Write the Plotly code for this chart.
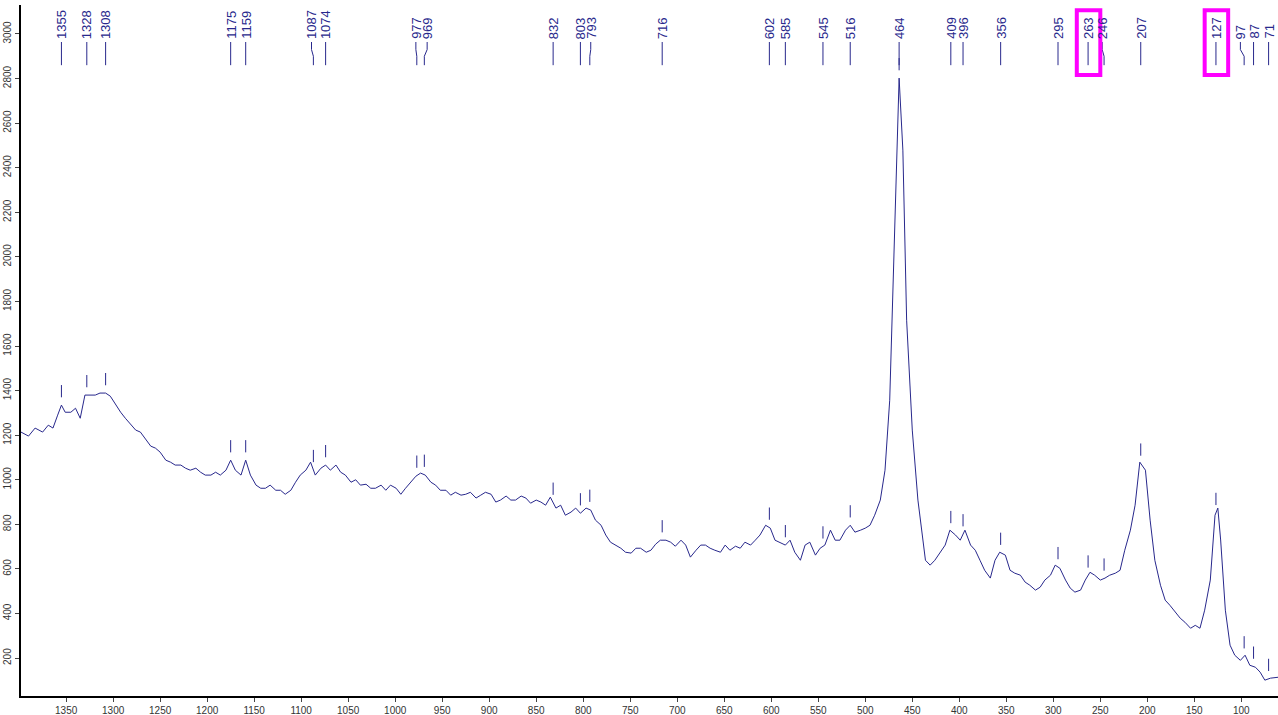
import numpy as np
import plotly.graph_objects as go

# Raman shift (cm-1) and intensity
shift = [1398, 1390, 1383, 1375, 1369, 1364, 1359, 1355, 1351, 1345, 1340, 1335, 1330, 1324, 1319, 1314,
         1308, 1303, 1297, 1292, 1287, 1281, 1276, 1271, 1265, 1260, 1255, 1250, 1244, 1239, 1234, 1228,
         1223, 1218, 1212, 1207, 1202, 1196, 1191, 1186, 1180, 1175, 1170, 1164, 1159, 1154, 1148, 1143,
         1138, 1133, 1127, 1122, 1117, 1111, 1106, 1101, 1095, 1090, 1085, 1079, 1074, 1069, 1063, 1058,
         1053, 1047, 1042, 1037, 1031, 1026, 1021, 1015, 1010, 1005, 999, 994, 989, 984, 978, 973, 968,
         962, 957, 952, 946, 941, 936, 930, 925, 920, 914, 909, 904, 898, 893, 888, 882, 877, 872, 866,
         861, 856, 850, 845, 840, 835, 829, 824, 819, 813, 808, 803, 797, 792, 787, 781, 776, 771, 765,
         760, 755, 749, 744, 739, 733, 728, 723, 718, 712, 707, 702, 696, 691, 686, 680, 675, 670, 665,
         660, 654, 649, 644, 638, 633, 628, 622, 617, 612, 606, 601, 596, 590, 585, 580, 575, 569, 564,
         559, 553, 548, 543, 537, 532, 527, 521, 516, 511, 505, 500, 495, 490, 484, 479, 474, 468, 464,
         460, 456, 450, 444, 436, 431, 426, 420, 415, 410, 404, 399, 394, 388, 383, 378, 373, 367, 362,
         357, 351, 346, 341, 335, 330, 325, 319, 314, 309, 303, 298, 293, 287, 282, 277, 271, 266, 261,
         256, 250, 245, 240, 234, 229, 224, 218, 213, 208, 202, 197, 192, 186, 181, 176, 170, 165, 160,
         154, 149, 144, 139, 133, 128, 125, 122, 117, 112, 107, 101, 96, 91, 85, 80, 75, 69, 61]
intensity = [1214, 1196, 1232, 1214, 1245, 1232, 1290, 1335, 1303, 1303, 1321, 1276, 1380, 1380, 1380, 1389,
             1389, 1375, 1335, 1303, 1276, 1245, 1223, 1214, 1178, 1151, 1142, 1124, 1088, 1079, 1066, 1066,
             1052, 1043, 1052, 1034, 1021, 1021, 1034, 1021, 1043, 1088, 1043, 1021, 1088, 1021, 976, 962,
             962, 976, 953, 953, 935, 953, 989, 1021, 1043, 1079, 1021, 1052, 1066, 1043, 1066, 1034,
             1021, 989, 1000, 976, 980, 962, 962, 976, 953, 976, 962, 935, 962, 989, 1016, 1030, 1021,
             989, 976, 953, 953, 931, 944, 931, 935, 944, 918, 931, 944, 935, 900, 909, 927, 909, 909, 927,
             918, 895, 909, 900, 886, 922, 873, 886, 841, 855, 873, 850, 873, 864, 819, 796, 752, 720, 707,
             693, 675, 671, 693, 693, 675, 684, 711, 729, 729, 720, 702, 729, 707, 653, 684, 707, 707, 693,
             684, 675, 707, 684, 702, 693, 720, 707, 729, 752, 796, 783, 729, 716, 707, 729, 675, 639, 707,
             720, 662, 693, 707, 774, 729, 729, 774, 796, 765, 774, 783, 796, 841, 909, 1043, 1357, 2255, 2802,
             2479, 1716, 1223, 909, 639, 617, 639, 675, 707, 774, 752, 729, 774, 707, 684, 639, 594, 559, 639,
             675, 662, 594, 581, 572, 541, 527, 505, 518, 550, 572, 617, 603, 550, 514, 496, 505, 550, 585,
             572, 550, 559, 572, 581, 594, 684, 774, 886, 1079, 1043, 819, 639, 527, 460, 437, 406, 379, 361,
             334, 347, 334, 415, 550, 841, 873, 730, 415, 258, 213, 190, 213, 168, 159, 137, 101, 110, 114]

peaks = [1355, 1328, 1308, 1175, 1159, 1087, 1074, 977, 969, 832, 803, 793, 716, 602, 585, 545, 516,
         464, 409, 396, 356, 295, 263, 246, 207, 127, 97, 87, 71]
# where each label sits when neighbours crowd it (the leader line bends)
label_at = [1355, 1328, 1308, 1175, 1159, 1089, 1074, 978, 966, 832, 803, 792, 716, 602, 585, 545, 516,
            464, 409, 396, 356, 295, 263, 248, 207, 127, 101, 87, 71]
highlighted = [263, 127]

ink = "#28288c"
xs = np.array(shift[::-1], dtype=float)
ys = np.array(intensity[::-1], dtype=float)

fig = go.Figure()
fig.add_trace(go.Scatter(x=shift, y=intensity, mode="lines",
                         line=dict(color=ink, width=1), hoverinfo="x+y"))

# little tick marks over each peak on the curve
tx, ty = [], []
for p in peaks:
    yp = float(np.interp(p, xs, ys))
    tx.extend([p, p, None])
    ty.extend([yp + 35, yp + 90, None])
fig.add_trace(go.Scatter(x=tx, y=ty, mode="lines", line=dict(color=ink, width=1), hoverinfo="skip"))

# peak labels along the top, with bent leader lines
lx, ly = [], []
for p, q in zip(peaks, label_at):
    lx.extend([p, p, q, q, None])
    ly.extend([2860, 2900, 2930, 2964, None])
    fig.add_annotation(x=q, y=2964, text=str(p), textangle=-90, showarrow=False,
                       xanchor="center", yanchor="bottom", yshift=1,
                       font=dict(family="Arial", size=13, color=ink))
fig.add_trace(go.Scatter(x=lx, y=ly, mode="lines", line=dict(color=ink, width=1), hoverinfo="skip"))

for p in highlighted:
    fig.add_shape(type="rect", x0=p + 12, x1=p - 13, y0=2816, y1=3107,
                  line=dict(color="#ff00ff", width=4))

fig.update_layout(
    width=1278, height=715,
    paper_bgcolor="white", plot_bgcolor="white",
    showlegend=False,
    margin=dict(l=21, r=0, t=5, b=19, autoexpand=False),
    xaxis=dict(range=[1398, 61], tickvals=list(range(100, 1351, 50)), showgrid=False, zeroline=False,
               showline=True, linecolor="black", linewidth=2, ticks="outside", ticklen=4, automargin=False,
               tickfont=dict(family="Arial", size=10, color="#333")),
    yaxis=dict(range=[30, 3130], tickvals=list(range(200, 3001, 200)), showgrid=False, zeroline=False,
               showline=True, linecolor="black", linewidth=2, ticks="outside", ticklen=4, tickangle=-90,
               automargin=False, tickfont=dict(family="Arial", size=10, color="#333")),
)

fig.write_html("out.html", config={"displayModeBar": False},
               post_script="document.body.style.margin='0';document.body.style.overflow='hidden';")
